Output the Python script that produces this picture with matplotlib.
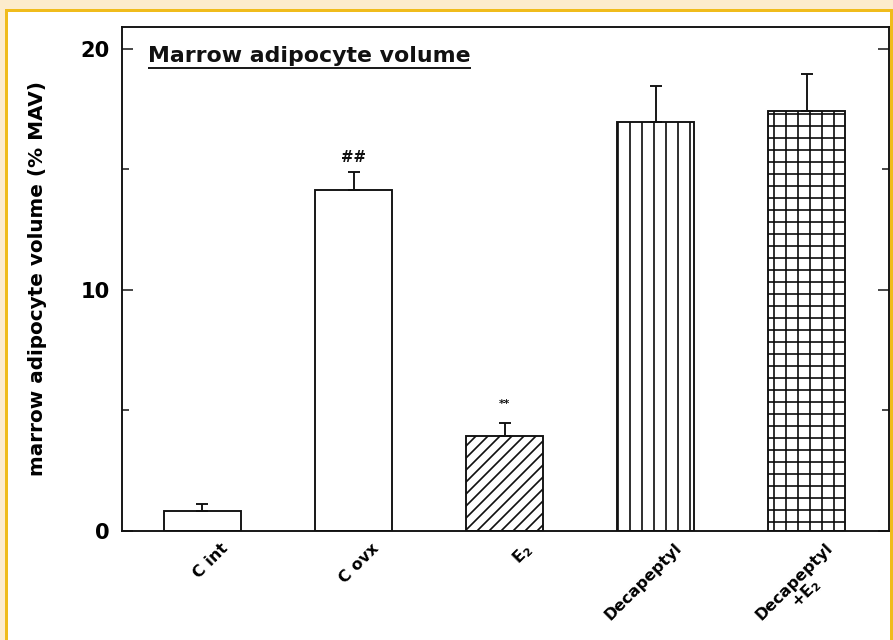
import matplotlib
matplotlib.use('Agg')
import matplotlib.pyplot as plt
from matplotlib.patches import Rectangle
from matplotlib.transforms import ScaledTranslation

# dpi 72 -> 1 pt == 1 px, hatch tiles repeat every 12 px
DPI = 72
W_PX, H_PX = 893, 640

plt.rcParams.update({
    'font.family': 'DejaVu Sans',
    'font.weight': 'bold',
    'mathtext.fontset': 'dejavusans',
    'mathtext.default': 'bf',
    'hatch.linewidth': 1.7,
    'hatch.color': '#111111',
})

# ── data ─────────────────────────────────────────────────────────────────────
groups = ['C int', 'C ovx', r'E$_2$', 'Decapeptyl', 'Decapeptyl\n' + r'+E$_2$']
mav = [0.85, 14.15, 3.92, 16.95, 17.41]
sem = [0.26, 0.72, 0.56, 1.52, 1.55]
hatches = ['', '', '//', '|', '+']
marks = ['', '##', '**', '', '']
mark_y = [0, 15.5, 5.25, 0, 0]
mark_size = [0, 15, 11, 0, 0]

INK = '#111111'
BG = '#FCECCD'
GOLD = '#F0BC1C'

fig = plt.figure(figsize=(W_PX / DPI, H_PX / DPI), dpi=DPI, facecolor=BG)

# white panel with gold frame (behind the axes)
fig.patches.append(Rectangle((6 / W_PX, -0.02), 885 / W_PX, 1 - 10 / H_PX + 0.02,
                             transform=fig.transFigure, facecolor='white',
                             edgecolor=GOLD, linewidth=3, zorder=-10))

ax = fig.add_axes([122 / W_PX, 1 - 531 / H_PX, 767 / W_PX, 504 / H_PX])
ax.set_zorder(5)
ax.set_facecolor('white')

x = range(len(groups))
bars = ax.bar(x, mav, width=0.505, color='white', edgecolor=INK, linewidth=1.9,
              zorder=2)
for b, h in zip(bars, hatches):
    b.set_hatch(h)
ax.errorbar(x, mav, yerr=[[0] * len(sem), sem], fmt='none', ecolor=INK,
            elinewidth=1.9, capsize=6, capthick=1.9, zorder=3)

for xi, m, my, ms in zip(x, marks, mark_y, mark_size):
    if m:
        ax.text(xi, my, m, ha='center', va='center', fontsize=ms,
                fontweight='bold', color=INK)

ax.set_xlim(-0.533, 4.546)
ax.set_ylim(0, 20.9)

ax.set_yticks([0, 10, 20])
ax.set_yticks([5, 15], minor=True)
ax.tick_params(axis='y', which='both', direction='in', left=True, right=True,
               width=1.5, color=INK, labelsize=21, pad=12)
ax.tick_params(axis='y', which='major', length=11)
ax.tick_params(axis='y', which='minor', length=7)
ax.tick_params(axis='x', length=0)

ax.set_xticks(list(x))
ax.set_xticklabels(groups, rotation=45, ha='right', va='top',
                   rotation_mode='anchor', fontsize=16, fontweight='bold',
                   multialignment='center', linespacing=1.0)
offset = ScaledTranslation(18 / DPI, -6 / DPI, fig.dpi_scale_trans)
for lbl in ax.get_xticklabels():
    lbl.set_transform(lbl.get_transform() + offset)

for s in ax.spines.values():
    s.set_linewidth(1.9)
    s.set_color(INK)

ax.set_ylabel('marrow adipocyte volume (% MAV)', fontsize=20,
              fontweight='bold', labelpad=34)

# panel title, underlined
title = ax.text(0.034, 0.93, 'Marrow adipocyte volume', transform=ax.transAxes,
                ha='left', va='baseline', fontsize=22, fontweight='bold',
                color=INK)
fig.canvas.draw()
bb = title.get_window_extent().transformed(ax.transAxes.inverted())
ax.plot([bb.x0, bb.x1], [0.93 - 0.012, 0.93 - 0.012], transform=ax.transAxes,
        color=INK, lw=1.9, solid_capstyle='butt')

fig.savefig('out.png', dpi=DPI, facecolor=BG)
